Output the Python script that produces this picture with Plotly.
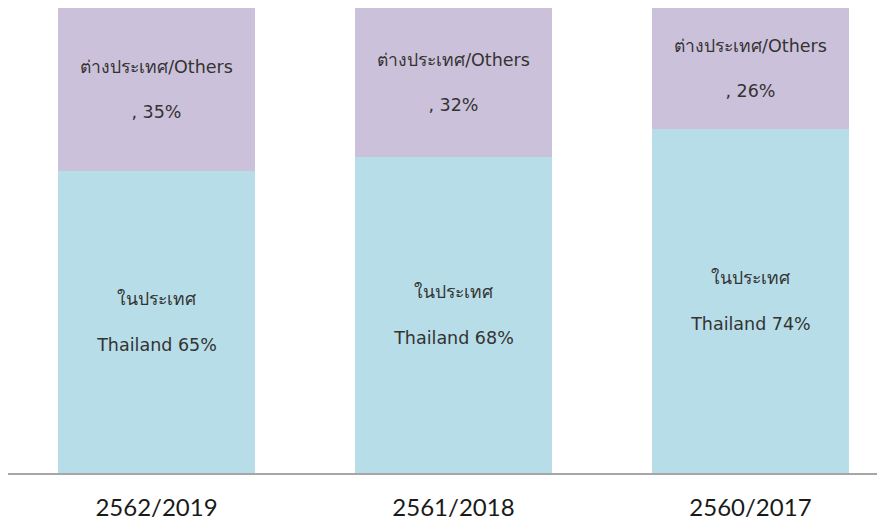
import plotly.graph_objects as go

categories = ["2562/2019", "2561/2018", "2560/2017"]
thailand = [65, 68, 74]
others = [35, 32, 26]
thai_label_top = "ในประเทศ"
thai_label_en = "Thailand"
others_label = "ต่างประเทศ/Others"

txt_font = dict(family="DejaVu Sans, sans-serif", size=17.5, color="#333333")

fig = go.Figure()
fig.add_trace(go.Bar(
    x=categories, y=thailand, name="Thailand",
    marker=dict(color="#b7dde8", line=dict(width=0)),
    text=[f"{thai_label_top}<br> <br>{thai_label_en} {v}%" for v in thailand],
    textposition="inside", insidetextanchor="middle", textangle=0,
    textfont=txt_font, width=0.663, hoverinfo="skip",
))
fig.add_trace(go.Bar(
    x=categories, y=others, name="Others",
    marker=dict(color="#ccc1da", line=dict(width=0)),
    text=[f"{others_label}<br> <br>, {v}%" for v in others],
    textposition="inside", insidetextanchor="middle", textangle=0,
    textfont=txt_font, width=0.663, hoverinfo="skip",
))
fig.update_layout(
    barmode="stack", width=885, height=519,
    margin=dict(l=0, r=0, t=0, b=54, autoexpand=False),
    paper_bgcolor="white", plot_bgcolor="white",
    showlegend=False, uniformtext=dict(minsize=10, mode=False),
)
fig.update_xaxes(
    type="category", range=[-0.5, 2.48], showgrid=False,
    showline=True, linecolor="#a6a6a6", linewidth=2,
    ticks="", ticklabelstandoff=12,
    tickfont=dict(family="Lato, Carlito, sans-serif", size=24, color="#1a1a1a"),
)
fig.update_yaxes(range=[0, 100], visible=False, showgrid=False)
fig.write_html("out.html")
